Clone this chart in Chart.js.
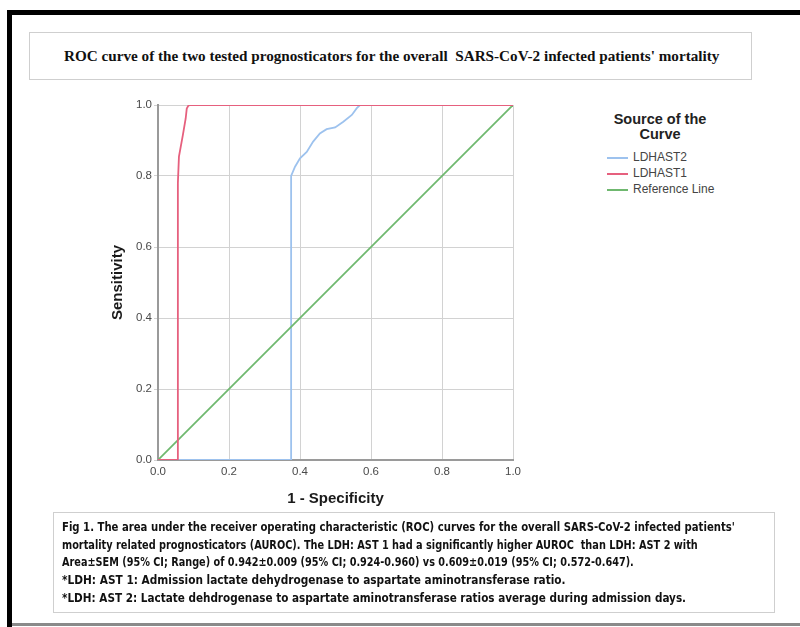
<!DOCTYPE html>
<html>
<head>
<meta charset="utf-8">
<script src="https://cdn.jsdelivr.net/npm/chart.js"></script>
<style>
  html, body { margin: 0; padding: 0; background: #fff; }
  #page { position: relative; width: 800px; height: 627px; overflow: hidden; font-family: "Liberation Sans", Arial, sans-serif; }
  .frame-top { position: absolute; left: 7px; top: 10px; width: 793px; height: 5px; background: #000; }
  .frame-left { position: absolute; left: 7px; top: 10px; width: 5px; height: 617px; background: #000; }
  .frame-bottom { position: absolute; left: 12px; top: 623px; width: 788px; height: 3px; background: #8a8a8a; }
  #title-box { position: absolute; left: 29px; top: 32px; width: 721px; height: 46px; border: 1px solid #cfcfcf; }
  #title { position: absolute; left: 34px; top: 15px; white-space: nowrap; font-family: "Liberation Serif", "Times New Roman", serif; font-weight: bold; font-size: 15px; color: #111; transform-origin: 0 0; }
  #chart-wrap { position: absolute; left: 100px; top: 90px; width: 440px; height: 425px; }
  #legend { position: absolute; left: 595px; top: 112px; width: 130px; }
  #legend .lt { text-align: center; font-weight: bold; font-size: 14.5px; line-height: 15px; color: #222; }
  #legend .item { position: relative; height: 16px; font-size: 12px; color: #444; margin-left: 12px; }
  #legend .item span.sw { position: absolute; left: 0; top: 7px; width: 21px; height: 2px; }
  #legend .item span.tx { position: absolute; left: 26px; top: 0; line-height: 15px; white-space: nowrap; }
  #legend .items { margin-top: 8px; }
  #caption-box { position: absolute; left: 53px; top: 512px; width: 720px; height: 99px; border: 1px solid #cfcfcf; }
  #caption { position: absolute; left: 8px; top: 5px; font-family: "Liberation Sans Narrow", "DejaVu Sans Condensed", "Liberation Sans", sans-serif; font-weight: bold; font-size: 12.5px; line-height: 17.7px; color: #111; }
  #caption div { white-space: nowrap; width: max-content; transform-origin: 0 0; }
</style>
</head>
<body>
<div id="page">
  <div class="frame-top"></div>
  <div class="frame-left"></div>
  <div class="frame-bottom"></div>
  <div id="title-box"><div id="title"></div></div>
  <div id="chart-wrap"><canvas id="roc"></canvas></div>
  <div id="legend"></div>
  <div id="caption-box"><div id="caption"></div></div>
</div>
<script>
// ROC curve data
const chartTitle = "ROC curve of the two tested prognosticators for the overall\u00a0 SARS-CoV-2 infected patients' mortality";
const legendTitle = ['Source of the', 'Curve'];
const seriesNames = ['LDHAST2', 'LDHAST1', 'Reference Line'];
const seriesColors = ['#9dc2ee', '#e6607e', '#6fb86f'];

const ldhast2X = [0, 0.375, 0.375, 0.386, 0.400, 0.419, 0.437, 0.456, 0.475, 0.499, 0.522, 0.546, 0.560, 0.569, 1];
const ldhast2Y = [0, 0, 0.800, 0.826, 0.850, 0.868, 0.897, 0.920, 0.932, 0.937, 0.953, 0.972, 0.991, 1, 1];

const ldhast1X = [0, 0.056, 0.056, 0.059, 0.070, 0.078, 0.081, 0.086, 0.092, 1];
const ldhast1Y = [0, 0, 0.780, 0.855, 0.915, 0.962, 0.990, 0.999, 1, 1];

const refX = [0, 1];
const refY = [0, 1];

const tickValues = [0, 0.2, 0.4, 0.6, 0.8, 1.0];

const captionLines = [
    "Fig 1. The area under the receiver operating characteristic (ROC) curves for the overall SARS-CoV-2 infected patients'",
    "mortality related prognosticators (AUROC). The LDH: AST 1 had a significantly higher AUROC\u00a0 than LDH: AST 2 with",
    "Area\u00b1SEM (95% CI; Range) of 0.942\u00b10.009 (95% CI; 0.924-0.960) vs 0.609\u00b10.019 (95% CI; 0.572-0.647).",
    "*LDH: AST 1: Admission lactate dehydrogenase to aspartate aminotransferase ratio.",
    "*LDH: AST 2: Lactate dehdrogenase to aspartate aminotransferase ratios average during admission days."
];
// measured widths of the caption lines in the figure
const captionWidths = [673, 636, 572, 504, 624];

function toPoints(xs, ys) {
    return xs.map((x, i) => ({ x: x, y: ys[i] }));
}

function fitWidth(el, target) {
    const w = el.scrollWidth;
    if (w > 0) el.style.transform = 'scaleX(' + (target / w) + ')';
}

document.getElementById('title').textContent = chartTitle;
fitWidth(document.getElementById('title'), 655);

const cap = document.getElementById('caption');
captionLines.forEach((l, i) => {
    const d = document.createElement('div');
    d.textContent = l;
    cap.appendChild(d);
    fitWidth(d, captionWidths[i]);
});

const axisTitleFont = { family: 'Liberation Sans, Arial, sans-serif', size: 15, weight: 'bold' };
const tickFont = { family: 'Liberation Sans, Arial, sans-serif', size: 11.5 };

const chart = new Chart(document.getElementById('roc'), {
    type: 'scatter',
    data: {
        datasets: [
            { label: seriesNames[0], data: toPoints(ldhast2X, ldhast2Y), borderColor: seriesColors[0], order: 2 },
            { label: seriesNames[1], data: toPoints(ldhast1X, ldhast1Y), borderColor: seriesColors[1], order: 0 },
            { label: seriesNames[2], data: toPoints(refX, refY), borderColor: seriesColors[2], order: 1 }
        ].map(d => Object.assign(d, { showLine: true, pointRadius: 0, borderWidth: 1.8, tension: 0, fill: false }))
    },
    options: {
        responsive: true,
        maintainAspectRatio: false,
        animation: false,
        layout: { padding: { top: 15, right: 27, bottom: 0, left: 0 } },
        plugins: { legend: { display: false }, tooltip: { enabled: false } },
        scales: {
            x: {
                type: 'linear', min: 0, max: 1,
                afterBuildTicks: s => { s.ticks = tickValues.map(v => ({ value: v })); },
                afterFit: s => { s.height = 55; },
                grid: { color: '#d2d2d2', lineWidth: 1, drawTicks: false },
                border: { color: '#9a9a9a', width: 2 },
                ticks: { font: tickFont, color: '#4a4a4a', padding: 5, callback: v => v.toFixed(1) },
                title: { display: true, text: '1 - Specificity', font: axisTitleFont, color: '#1a1a1a', padding: { top: 4, bottom: 7 } }
            },
            y: {
                type: 'linear', min: 0, max: 1,
                afterBuildTicks: s => { s.ticks = tickValues.map(v => ({ value: v })); },
                afterFit: s => { s.width = 58; },
                grid: { color: '#d2d2d2', lineWidth: 1, tickLength: 4 },
                border: { color: '#9a9a9a', width: 2 },
                ticks: { font: tickFont, color: '#4a4a4a', padding: 2, callback: v => v.toFixed(1) },
                title: { display: true, text: 'Sensitivity', font: axisTitleFont, color: '#1a1a1a', padding: { top: 9, bottom: 4 } }
            }
        }
    }
});

// legend built from the chart's datasets
const lg = document.getElementById('legend');
let html = '<div class="lt">' + legendTitle.join('<br>') + '</div><div class="items">';
chart.data.datasets.forEach(d => {
    html += '<div class="item"><span class="sw" style="background:' + d.borderColor + '"></span><span class="tx">' + d.label + '</span></div>';
});
lg.innerHTML = html + '</div>';
</script>
</body>
</html>
